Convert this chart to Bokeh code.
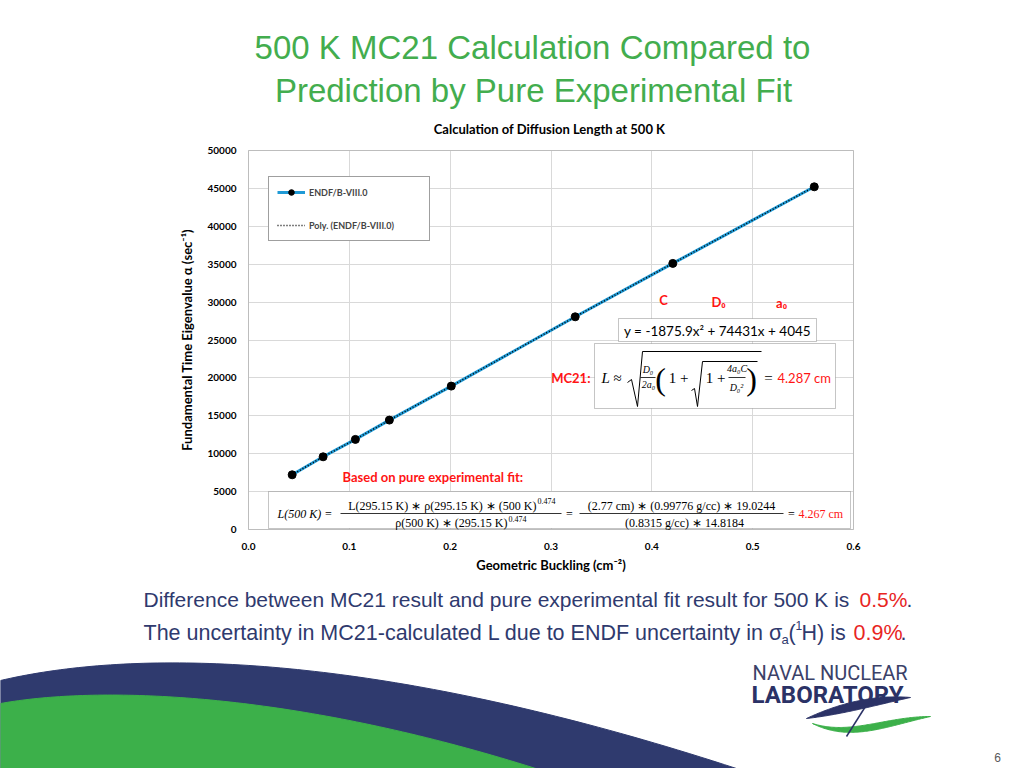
import numpy as np
from bokeh.plotting import figure
from bokeh.models import (Range1d, Label, BoxAnnotation, Legend, LegendItem, Grid,
                          LinearAxis, FixedTicker, NumeralTickFormatter)
from bokeh.embed import file_html
from bokeh.resources import INLINE

# ---------------- data ----------------
buckling = [0.0433, 0.0740, 0.1060, 0.1397, 0.2011, 0.3240, 0.4208, 0.5611]
alpha = [7216, 9591, 11887, 14433, 18918, 28061, 35106, 45211]
x_tick_values = [0.0, 0.1, 0.2, 0.3, 0.4, 0.5, 0.6]
y_tick_values = [0, 5000, 10000, 15000, 20000, 25000, 30000, 35000, 40000, 45000, 50000]
series_name = "ENDF/B-VIII.0"
trend_name = "Poly. (ENDF/B-VIII.0)"
fit_equation = "y = -1875.9x² + 74431x + 4045"
mc21_result = "4.287 cm"
exp_result = "4.267 cm"
slide_title = ["500 K MC21 Calculation Compared to", "Prediction by Pure Experimental Fit"]
chart_title = "Calculation of Diffusion Length at 500 K"
x_label = "Geometric Buckling (cm⁻²)"
y_label = "Fundamental Time Eigenvalue α (sec⁻¹)"
x_lim = (0.0, 0.6)
y_lim = (0, 50000)

# ---------------- styles ----------------
W, H = 1024, 768
GREEN = "#43ad4e"
NAVY = "#2f3a6e"
RED = "#ff1414"
BODY_RED = "#e8251f"
BLUE = "#1f9ad6"
CH = "Lato"
SERIF = "Liberation Serif"
SLIDE = "Liberation Sans"

# slide canvas uses screenshot pixel coordinates
PX0, PX1, PY0, PY1 = 0, W, 0, H
# plot-area rectangle of the chart, in the same pixel coordinates
FL, FR, FT, FB = 248, 853, 150, 529

p = figure(width=W, height=H, x_range=Range1d(PX0, PX1), y_range=Range1d(PY1, PY0),
           x_axis_type=None, y_axis_type=None, toolbar_location=None,
           output_backend="svg", min_border=0, outline_line_color=None,
           background_fill_color="white", border_fill_color="white")

# chart ranges, stretched so the chart's own scale lands on its plot area
xs = (x_lim[1] - x_lim[0]) / (FR - FL)
ys = (y_lim[1] - y_lim[0]) / (FB - FT)
p.extra_x_ranges = {"bx": Range1d(x_lim[0] - (FL - PX0) * xs, x_lim[1] + (PX1 - FR) * xs)}
p.extra_y_ranges = {"by": Range1d(y_lim[0] - (PY1 - FB) * ys, y_lim[1] + (FT - PY0) * ys)}
CR = dict(x_range_name="bx", y_range_name="by")


def lab(x, y, text, size, color="black", font=CH, style="normal",
        align="left", baseline="middle", angle=0):
    l = Label(x=x, y=y, text=text, text_font=font, text_font_size=f"{size}px",
              text_font_style=style, text_color=color, text_align=align,
              text_baseline=baseline, angle=angle)
    p.add_layout(l)
    return l


def bez(p0, p1, p2, p3, n=90):
    t = np.linspace(0, 1, n)[:, None]
    pts = ((1 - t) ** 3) * np.array(p0) + 3 * ((1 - t) ** 2) * t * np.array(p1) \
        + 3 * (1 - t) * t ** 2 * np.array(p2) + t ** 3 * np.array(p3)
    return list(pts[:, 0]), list(pts[:, 1])


# ---------------- slide title ----------------
lab(532, 47, slide_title[0], 33, GREEN, SLIDE, align="center")
lab(533, 90, slide_title[1], 33, GREEN, SLIDE, align="center")
lab(549, 128, chart_title, 13, "black", CH, "bold", align="center")

# ---------------- chart: grid, frame, axes ----------------
has_cross = "cross_bounds" in Grid.properties()
for dim, ticks, cross in [(0, x_tick_values, y_lim), (1, y_tick_values, x_lim)]:
    g = Grid(dimension=dim, ticker=FixedTicker(ticks=ticks), grid_line_color="#d9d9d9", **CR)
    if has_cross:
        g.cross_bounds = cross
    p.add_layout(g)
if not has_cross:
    # mask grid lines outside the plot area
    for l_, r_, t_, b_ in [(PX0, PX1, PY0, FT), (PX0, PX1, FB, PY1),
                           (PX0, FL, FT, FB), (FR, PX1, FT, FB)]:
        p.add_layout(BoxAnnotation(left=l_, right=r_, top=t_, bottom=b_, fill_color="white",
                                   fill_alpha=1, line_alpha=0, level="underlay"))
p.add_layout(BoxAnnotation(left=x_lim[0], right=x_lim[1], bottom=y_lim[0], top=y_lim[1],
                           fill_alpha=0, line_color="#7f7f7f", line_width=1,
                           level="underlay", **CR))


def style_axis(ax, standoff):
    ax.axis_line_color = None
    ax.major_tick_line_color = None
    ax.minor_tick_line_color = None
    ax.major_label_text_font = CH
    ax.major_label_text_font_style = "bold"
    ax.major_label_text_font_size = "10px"
    ax.major_label_text_color = "black"
    ax.axis_label_text_font = CH
    ax.axis_label_text_font_style = "bold"
    ax.axis_label_text_font_size = "13px"
    ax.axis_label_text_color = "black"
    ax.major_label_standoff = standoff


xaxis = LinearAxis(ticker=FixedTicker(ticks=x_tick_values),
                   formatter=NumeralTickFormatter(format="0.0"),
                   fixed_location=y_lim[0], bounds=x_lim, axis_label=x_label,
                   axis_label_standoff=4, **CR)
yaxis = LinearAxis(ticker=FixedTicker(ticks=y_tick_values),
                   formatter=NumeralTickFormatter(format="0"),
                   fixed_location=x_lim[0], bounds=y_lim, axis_label=y_label,
                   axis_label_standoff=9, **CR)
style_axis(xaxis, 7)
style_axis(yaxis, 6)
p.add_layout(xaxis, "below")
p.add_layout(yaxis, "left")

# white formula boxes (under glyphs, over grid)
for l_, r_, t_, b_ in [(618, 816, 318, 341), (594, 835, 343, 408), (268, 850, 491, 528)]:
    p.add_layout(BoxAnnotation(left=l_, right=r_, top=t_, bottom=b_, fill_color="white",
                               fill_alpha=1, line_color="#404040", line_width=1,
                               level="underlay"))

# ---------------- chart: data ----------------
blue = p.line(buckling, alpha, line_color=BLUE, line_width=3, **CR)
trend = p.line(buckling, alpha, line_color="black", line_width=1.5, line_dash="1 2", **CR)
dots = p.scatter(buckling, alpha, size=8, fill_color="black", line_color="black", **CR)

legend = Legend(items=[LegendItem(label=series_name, renderers=[blue, dots]),
                       LegendItem(label=trend_name, renderers=[trend])],
                location=(268 - PX0, PY1 - 241), orientation="vertical",
                border_line_color="#404040", border_line_width=1,
                background_fill_color="white", background_fill_alpha=1,
                label_text_font=CH, label_text_font_style="bold",
                label_text_font_size="9px", glyph_width=28, glyph_height=14,
                label_height=14, label_width=112, spacing=19, padding=8, margin=0,
                label_standoff=4)
p.add_layout(legend)

# ---------------- chart: annotations ----------------
lab(663, 299, "C", 13, RED, CH, "bold", align="center")
lab(718, 301, "D₀", 13, RED, CH, "bold", align="center")
lab(781, 302, "a₀", 13, RED, CH, "bold", align="center")
lab(717, 330, fit_equation, 13.5, "black", CH, align="center")

# MC21 formula
lab(590, 377, "MC21:", 13, RED, CH, "bold", align="right")
lab(601, 377, "L ≈", 15, "black", SERIF, "italic")
p.line([627, 631, 637, 642, 761], [382, 379, 406, 351, 351], line_color="black", line_width=1)
lab(647.5, 369, "D₀", 10, "black", SERIF, "italic", align="center")
p.line([640, 655], [377, 377], line_color="black", line_width=0.8)
lab(648, 384, "2a₀", 10, "black", SERIF, "italic", align="center")
lab(660, 378, "(", 32, "black", SERIF, align="center")
lab(678, 377, "1 +", 15, "black", SERIF, align="center")
p.line([691, 694, 697, 702, 757], [390, 388, 406, 361, 361], line_color="black", line_width=1)
lab(715, 377, "1 +", 15, "black", SERIF, align="center")
lab(736.5, 368, "4a₀C", 10, "black", SERIF, "italic", align="center")
p.line([728, 745], [377, 377], line_color="black", line_width=0.8)
lab(736, 387, "D₀²", 10, "black", SERIF, "italic", align="center")
lab(751, 378, ")", 32, "black", SERIF, align="center")
lab(768, 377, "=", 15, "black", SERIF, align="center")
lab(777, 377, mc21_result, 13, RED, CH)

# experimental fit formula
lab(342, 476, "Based on pure experimental fit:", 13, RED, CH, "bold")
lab(277, 513, "L(500 K) =", 12, "black", SERIF, "italic")
lab(536, 505, "L(295.15 K) ∗ ρ(295.15 K) ∗ (500 K)", 12, "black", SERIF, align="right")
lab(537, 500, "0.474", 8, "black", SERIF)
p.line([340, 561], [513, 513], line_color="black", line_width=0.8)
lab(507, 522, "ρ(500 K) ∗ (295.15 K)", 12, "black", SERIF, align="right")
lab(508, 518, "0.474", 8, "black", SERIF)
lab(569, 513, "=", 12, "black", SERIF, align="center")
lab(681, 505, "(2.77 cm) ∗ (0.99776 g/cc) ∗ 19.0244", 12, "black", SERIF, align="center")
p.line([579, 783], [513, 513], line_color="black", line_width=0.8)
lab(684, 522, "(0.8315 g/cc) ∗ 14.8184", 12, "black", SERIF, align="center")
lab(791, 513, "=", 12, "black", SERIF, align="center")
lab(798, 513, exp_result, 12, RED, SERIF)

# ---------------- notes ----------------
lab(143, 599, "Difference between MC21 result and pure experimental fit result for 500 K is",
    21, NAVY, SLIDE)
lab(859, 599, "0.5%", 21, BODY_RED, SLIDE)
lab(906, 599, ".", 21, NAVY, SLIDE)
lab(143, 632, "The uncertainty in MC21-calculated L due to ENDF uncertainty in σ", 21.5, NAVY, SLIDE)
lab(781, 639, "a", 13, NAVY, SLIDE)
lab(788, 632, "(", 21.5, NAVY, SLIDE)
lab(795, 625, "1", 12, NAVY, SLIDE)
lab(801, 632, "H) is", 21.5, NAVY, SLIDE)
lab(853, 632, "0.9%", 21.5, BODY_RED, SLIDE)
lab(900, 632, ".", 21.5, NAVY, SLIDE)

# ---------------- waves ----------------
nx, ny = bez((0, 680), (150, 645), (400, 655), (760, 776))
p.patch(nx + [760, 0], ny + [800, 800], fill_color=NAVY, line_color=NAVY)
gx, gy = bez((0, 703), (100, 685), (300, 690), (560, 776))
p.patch(gx + [560, 0], gy + [800, 800], fill_color="#3cb04a", line_color="#3cb04a")

# ---------------- logo ----------------
lab(752, 672, "NAVAL NUCLEAR", 20, "#3b4168", "Roboto")
lab(751, 694, "LABORATORY", 24, "#2b3266", "Roboto", "bold")
ux, uy = bez((806, 718), (840, 702), (875, 694), (910, 697))
lx, ly = bez((910, 697), (878, 704), (842, 714), (806, 718))
p.patch(ux + lx, uy + ly, fill_color="#2b3266", line_color="#2b3266")
g1x, g1y = bez((812, 723), (850, 735), (885, 716), (930, 716))
g2x, g2y = bez((930, 716), (885, 726), (850, 742), (812, 723))
p.patch(g1x + g2x, g1y + g2y, fill_color="#3cb04a", line_color="#3cb04a")
p.line([846, 870], [736, 698], line_color="#2b3266", line_width=1.5)
lab(997, 757, "6", 12, "#595959", SLIDE, align="center")

open("out.html", "w").write(file_html(p, INLINE))
